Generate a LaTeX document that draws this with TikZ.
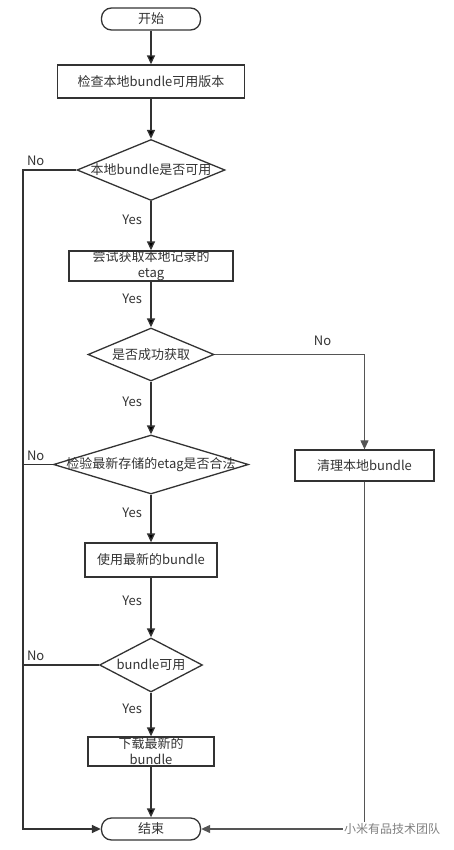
\documentclass[tikz,border=0pt]{standalone}
\usepackage{fontspec}
\setmainfont{Noto Sans CJK SC}
\usepackage{xcolor}
\usepackage{tikz}
\usetikzlibrary{shapes.geometric,arrows.meta}
\definecolor{ink}{HTML}{333333}
\definecolor{thinink}{HTML}{555555}

\begin{document}
\begin{tikzpicture}[x=1pt,y=-1pt,
  every node/.style={text=ink,font=\fontsize{13}{16}\selectfont}]

    \tikzstyle{terminal} = [rectangle,rounded corners=10pt,draw=ink,line width=1.3pt,minimum width=99pt,minimum height=22pt,inner sep=0pt]
    \tikzstyle{process} = [rectangle,draw=ink,line width=1.3pt,inner sep=0pt]
    \tikzstyle{decision} = [diamond,draw=ink,line width=1.3pt,inner sep=0pt]
    \tikzstyle{flow} = [draw=ink,line width=1.4pt,-{Triangle[length=9pt,width=8pt]}]
    \tikzstyle{branch} = [font=\fontsize{13}{15}\selectfont]

  \useasboundingbox (0,0) rectangle (454,850);

  \node[terminal] (start) at (151,19) {开始};
  \node[process,minimum width=187pt,minimum height=33pt] (check) at (151,81.5) {检查本地bundle可用版本};
  \node[decision,minimum width=148pt,minimum height=61pt,label=center:本地bundle是否可用] (local) at (151,170) {};
  \node[process,minimum width=164pt,minimum height=30pt,label={[align=center]center:尝试获取本地记录的\\etag}] (etag) at (151,266) {};
  \node[decision,minimum width=126pt,minimum height=53pt,label=center:是否成功获取] (fetched) at (151,354.5) {};
  \node[process,minimum width=139pt,minimum height=31pt] (clean) at (364.5,465.5) {清理本地bundle};
  \node[decision,minimum width=195pt,minimum height=59pt,label=center:检验最新存储的etag是否合法] (verify) at (151,464.5) {};
  \node[process,minimum width=132pt,minimum height=34pt] (use) at (151,560) {使用最新的bundle};
  \node[decision,minimum width=103pt,minimum height=54pt,label=center:bundle可用] (ok) at (151,665) {};
  \node[process,minimum width=126pt,minimum height=29pt,label={[align=center]center:下载最新的\\bundle}] (download) at (151,751.5) {};
  \node[terminal] (stop) at (151,829) {结束};

  \coordinate (nobus) at (23,170);

  \path[flow,every node/.style={text=ink,font=\fontsize{13}{15}\selectfont,left=5pt,pos=0.38}]
    (start) edge (check)
    (check) edge (local)
    (local) edge node {Yes} (etag)
    (etag) edge node {Yes} (fetched)
    (fetched) edge node {Yes} (verify)
    (verify) edge node {Yes} (use)
    (use) edge node {Yes} (ok)
    (ok) edge node {Yes} (download)
    (download) edge (stop)
    ;

  \draw[flow] (local.west) -- (nobus) node[branch,above right] {No} |- (stop.west);
  \draw[draw=ink,line width=1.4pt] (verify.west) -- (verify.west -| nobus) node[branch,above right] {No};
  \draw[draw=ink,line width=1.4pt] (ok.west) -- (ok.west -| nobus) node[branch,above right] {No};

  \draw[flow,draw=thinink,line width=1.1pt] (fetched.east) -| node[branch,pos=0.36,above=5pt] {No} (clean.north);
  \draw[flow,draw=thinink,line width=1.1pt] (clean.south) |- (stop.east);

  \node[fill=white,inner sep=1pt,text=gray,font=\fontsize{12}{14}\selectfont] (wm) at (392,829) {小米有品技术团队};

\end{tikzpicture}
\end{document}
